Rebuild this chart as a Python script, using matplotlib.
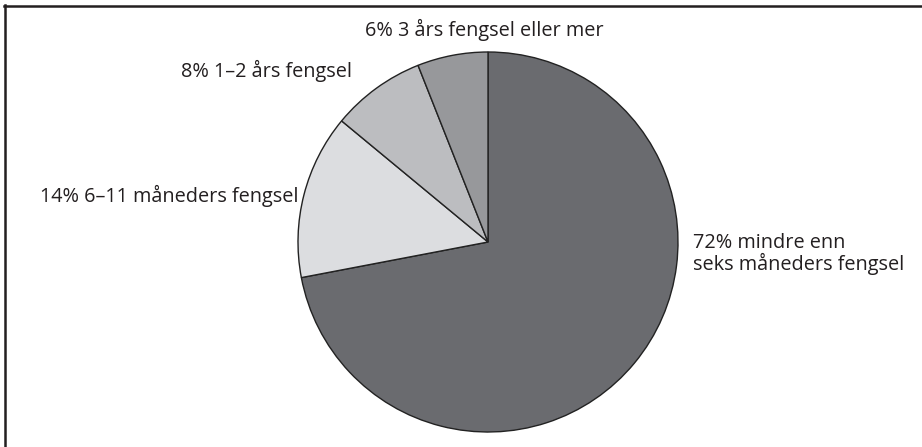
import numpy as np
import matplotlib.pyplot as plt
from matplotlib.lines import Line2D

plt.rcParams['font.family'] = ['Open Sans', 'DejaVu Sans']

# Data: share of sentences (clockwise from top)
labels = ["72% mindre enn\nseks måneders fengsel",
          "14% 6\u201311 måneders fengsel",
          "8% 1\u20132 års fengsel",
          "6% 3 års fengsel eller mer"]
values = [72, 14, 8, 6]
colors = ['#6a6b6f', '#dcdde0', '#bcbdc0', '#97989b']

W, H = 922, 447
fig = plt.figure(figsize=(W / 100, H / 100), dpi=100)
ax = fig.add_axes([0, 0, 1, 1])

cx, cy, r = 488, 242, 190

# pie drawn in pixel space (y measured downward, so negated)
wedges, _ = ax.pie(values, colors=colors, startangle=90, counterclock=False,
                   center=(cx, -cy), radius=r,
                   wedgeprops=dict(edgecolor='#222222', linewidth=1.0),
                   frame=True)
ax.set_xlim(0, W)
ax.set_ylim(-H, 0)
ax.set_aspect('equal')
ax.axis('off')

fs = 14.3
tc = '#231f20'
ax.text(484, -30, labels[3], ha='center', va='center', fontsize=fs, color=tc)
ax.text(352, -71, labels[2], ha='right', va='center', fontsize=fs, color=tc)
ax.text(298, -196, labels[1], ha='right', va='center', fontsize=fs, color=tc)
ax.text(693, -254, labels[0], ha='left', va='center', fontsize=fs, color=tc,
        linespacing=0.95)

# frame (top and left edges visible)
fig.add_artist(Line2D([5 / W, 5 / W], [0, 1 - 5 / H], transform=fig.transFigure,
                      color=tc, linewidth=1.8))
fig.add_artist(Line2D([4 / W, 1], [1 - 6 / H, 1 - 6 / H], transform=fig.transFigure,
                      color=tc, linewidth=1.8))

fig.savefig('out.png', dpi=100)
